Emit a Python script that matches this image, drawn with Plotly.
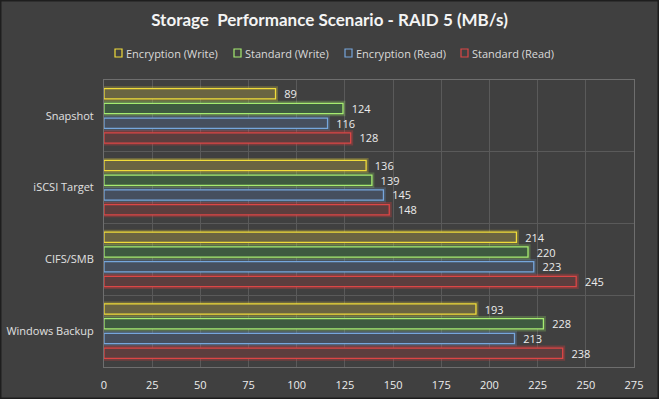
import plotly.graph_objects as go

categories = ["Snapshot", "iSCSI Target", "CIFS/SMB", "Windows Backup"]
series_names = ["Encryption (Write)", "Standard (Write)", "Encryption (Read)", "Standard (Read)"]
enc_write = [89, 136, 214, 193]
std_write = [124, 139, 220, 228]
enc_read = [116, 145, 223, 213]
std_read = [128, 148, 245, 238]
x_ticks = [0, 25, 50, 75, 100, 125, 150, 175, 200, 225, 250, 275]

values = [enc_write, std_write, enc_read, std_read]
borders = ["#f0dc3a", "#a6ec70", "#76a6dc", "#dc4646"]
glows = ["rgba(240,220,60,0.25)", "rgba(150,230,100,0.25)", "rgba(110,160,220,0.2)", "rgba(230,60,60,0.3)"]
fills = ["#6a6442", "#3e5a40", "#464f5e", "#5c3e3e"]

W, H = 659, 399
L, R, T, B = 104, 25, 80, 32
PW, PH = W - L - R, H - T - B

fig = go.Figure()
# glow layer
for i, (vals, gc) in enumerate(zip(values, glows)):
    fig.add_trace(go.Bar(
        y=categories, x=vals, orientation="h", offsetgroup=str(i),
        marker=dict(color="rgba(0,0,0,0)", line=dict(color=gc, width=5)),
        showlegend=False, hoverinfo="skip",
    ))
for i, (name, vals, bc, fc) in enumerate(zip(series_names, values, borders, fills)):
    fig.add_trace(go.Bar(
        y=categories, x=vals, name=name, orientation="h", offsetgroup=str(i),
        marker=dict(color=fc, line=dict(color=bc, width=1.3)),
        text=["  " + str(v) for v in vals], textposition="outside", constraintext="none",
        textfont=dict(color="#ececec", size=11, family="Open Sans"),
        cliponaxis=False, showlegend=False,
    ))

fig.update_layout(
    width=W, height=H,
    paper_bgcolor="#404040", plot_bgcolor="#404040",
    margin=dict(l=L, r=R, t=T, b=B, autoexpand=False),
    barmode="group", bargap=0.18, bargroupgap=0.3,
    title=dict(text="<b>Storage  Performance Scenario - RAID 5 (MB/s)</b>",
               x=0.5, xanchor="center", y=1 - 20 / H, yanchor="middle",
               font=dict(family="Lato", size=17, color="#f4f4f4")),
    showlegend=False,
    font=dict(family="Open Sans", color="#e0e0e0"),
)
fig.update_xaxes(range=[0, 275], tickvals=x_ticks, showgrid=True, gridcolor="#5a5a5a",
                 gridwidth=1, zeroline=False, showline=True, linecolor="#6e6e6e", mirror=True,
                 automargin=False, ticks="", ticklabelstandoff=8,
                 tickfont=dict(family="Open Sans", size=11, color="#ececec"))
fig.update_yaxes(autorange="reversed", tickson="boundaries", showgrid=True, gridcolor="#5a5a5a",
                 showline=True, linecolor="#6e6e6e", mirror=True, ticks="",
                 ticklabelstandoff=7, automargin=False,
                 tickfont=dict(family="Open Sans", size=11, color="#e0e0e0"))

# legend drawn as squares + text
leg_x = [115, 234, 345, 461]
leg_y = 53
for xs, name, bc in zip(leg_x, series_names, borders):
    fig.add_shape(type="rect", xref="paper", yref="paper",
                  x0=(xs - L) / PW, x1=(xs + 7 - L) / PW,
                  y0=(H - B - (leg_y + 4)) / PH, y1=(H - B - (leg_y - 4)) / PH,
                  line=dict(color=bc, width=1.2), fillcolor="#404040")
    fig.add_annotation(xref="paper", yref="paper", x=(xs + 9 - L) / PW, y=(H - B - leg_y) / PH,
                       text=name, showarrow=False, xanchor="left", yanchor="middle",
                       font=dict(family="Open Sans", size=11, color="#dadada"))

fig.add_shape(type="rect", xref="paper", yref="paper", x0=-L / PW, x1=1 + R / PW,
              y0=-B / PH, y1=1 + T / PH, line=dict(color="#1e1e1e", width=3),
              fillcolor="rgba(0,0,0,0)")
fig.write_html("out.html", config={"displayModeBar": False},
               post_script="document.body.style.margin='0';")
